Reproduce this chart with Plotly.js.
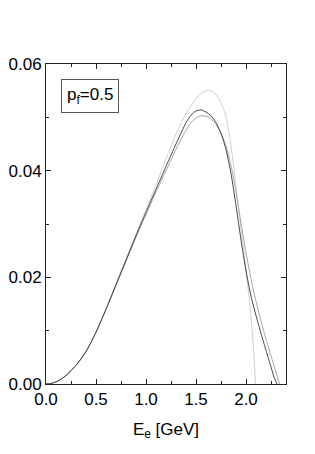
<!DOCTYPE html>
<html>
<head>
<meta charset="utf-8">
<script src="https://cdn.plot.ly/plotly-3.0.1.min.js"></script>
<style>html,body{margin:0;padding:0;background:#fff;}#plot{width:315px;height:454px;}</style>
</head>
<body>
<div id="plot"></div>
<script>
// Electron energy E_e [GeV]
const xDark = [0, 0.05, 0.1, 0.15, 0.2, 0.25, 0.3, 0.35, 0.4, 0.45, 0.5, 0.6, 0.7, 0.8, 0.9, 1.0, 1.1, 1.2, 1.3, 1.4, 1.45, 1.5, 1.55, 1.6, 1.65, 1.7, 1.75, 1.8, 1.85, 1.9, 1.95, 2.0, 2.05, 2.1, 2.15, 2.2, 2.25, 2.28, 2.31];
const yDark = [0, 0.0001, 0.0004, 0.0009, 0.0016, 0.0025, 0.0035, 0.0047, 0.0061, 0.0078, 0.0097, 0.0140, 0.0186, 0.0232, 0.0278, 0.0322, 0.0365, 0.0408, 0.0450, 0.0490, 0.0504, 0.0512, 0.0514, 0.0510, 0.0503, 0.0490, 0.0470, 0.0440, 0.0395, 0.0335, 0.0270, 0.0212, 0.0165, 0.0128, 0.0095, 0.0063, 0.0032, 0.0013, 0];

const xMed = [0, 0.05, 0.1, 0.15, 0.2, 0.25, 0.3, 0.35, 0.4, 0.45, 0.5, 0.6, 0.7, 0.8, 0.9, 1.0, 1.1, 1.2, 1.3, 1.37, 1.4, 1.45, 1.5, 1.55, 1.6, 1.65, 1.7, 1.75, 1.8, 1.85, 1.9, 1.95, 2.0, 2.05, 2.1, 2.15, 2.2, 2.25, 2.3, 2.336];
const yMed = [0, 0.0001, 0.0004, 0.0009, 0.0016, 0.0025, 0.0035, 0.0047, 0.0061, 0.0078, 0.0097, 0.0140, 0.0185, 0.0230, 0.0275, 0.0318, 0.0360, 0.0400, 0.0440, 0.0466, 0.0476, 0.0490, 0.0499, 0.0503, 0.0502, 0.0497, 0.0487, 0.0470, 0.0447, 0.0410, 0.0360, 0.0302, 0.0246, 0.0197, 0.0155, 0.0118, 0.0084, 0.0053, 0.0022, 0];

const xLight = [0, 0.05, 0.1, 0.15, 0.2, 0.25, 0.3, 0.35, 0.4, 0.45, 0.5, 0.6, 0.7, 0.8, 0.9, 1.0, 1.1, 1.2, 1.25, 1.3, 1.4, 1.5, 1.55, 1.6, 1.65, 1.7, 1.75, 1.8, 1.85, 1.9, 1.95, 2.0, 2.05, 2.08, 2.095];
const yLight = [0, 0.0001, 0.0004, 0.0009, 0.0016, 0.0025, 0.0035, 0.0047, 0.0061, 0.0078, 0.0097, 0.0141, 0.0188, 0.0235, 0.0281, 0.0327, 0.0374, 0.0422, 0.0446, 0.0469, 0.0507, 0.0535, 0.0545, 0.0550, 0.0550, 0.0543, 0.0527, 0.0502, 0.0448, 0.0370, 0.0292, 0.0215, 0.0128, 0.0052, 0];

const xTickVals = [0, 0.5, 1.0, 1.5, 2.0];
const xTickText = ['0.0', '0.5', '1.0', '1.5', '2.0'];
const yTickVals = [0, 0.02, 0.04, 0.06];
const yTickText = ['0.00', '0.02', '0.04', '0.06'];

const FONT = 'Liberation Sans, Arial, Helvetica, sans-serif';
const FS = 17;

const traces = [
  {x: xLight, y: yLight, mode: 'lines', line: {color: '#c8c8c8', width: 0.9, shape: 'spline', smoothing: 0.5}, showlegend: false, hoverinfo: 'skip'},
  {x: xMed, y: yMed, mode: 'lines', line: {color: '#9c9c9c', width: 0.9, shape: 'spline', smoothing: 0.5}, showlegend: false, hoverinfo: 'skip'},
  {x: xDark, y: yDark, mode: 'lines', line: {color: '#333', width: 0.9, shape: 'spline', smoothing: 0.5}, showlegend: false, hoverinfo: 'skip'}
];

const axisCommon = {
  showline: true, linecolor: '#222', linewidth: 1, mirror: 'ticks',
  ticks: 'inside', ticklen: 5, tickwidth: 1, tickcolor: '#222',
  showgrid: false, zeroline: false,
  tickfont: {family: FONT, size: FS, color: '#000'}
};

const layout = {
  width: 315, height: 454,
  margin: {l: 46, r: 29, t: 64, b: 70, pad: 0},
  paper_bgcolor: '#fff', plot_bgcolor: '#fff',
  font: {family: FONT, size: FS, color: '#000'},
  xaxis: Object.assign({}, axisCommon, {
    range: [0, 2.4], tickmode: 'array', tickvals: xTickVals, ticktext: xTickText,
    minor: {dtick: 0.25, tick0: 0, ticks: 'inside', ticklen: 3, tickcolor: '#222', tickwidth: 1, showgrid: false},
    title: {text: 'E<sub>e</sub> [GeV]', font: {family: FONT, size: FS, color: '#000'}, standoff: 14}
  }),
  yaxis: Object.assign({}, axisCommon, {
    range: [0, 0.06], tickmode: 'array', tickvals: yTickVals, ticktext: yTickText,
    minor: {dtick: 0.01, tick0: 0, ticks: 'inside', ticklen: 3, tickcolor: '#222', tickwidth: 1, showgrid: false}
  }),
  annotations: [{
    xref: 'paper', yref: 'paper', x: 0.185, y: 0.90, xanchor: 'center', yanchor: 'middle',
    text: 'p<sub>f</sub>=0.5', showarrow: false,
    font: {family: FONT, size: FS, color: '#000'},
    bordercolor: '#555', borderwidth: 1, borderpad: 5, bgcolor: '#fff'
  }]
};

Plotly.newPlot('plot', traces, layout, {displayModeBar: false, staticPlot: true});
</script>
</body>
</html>
